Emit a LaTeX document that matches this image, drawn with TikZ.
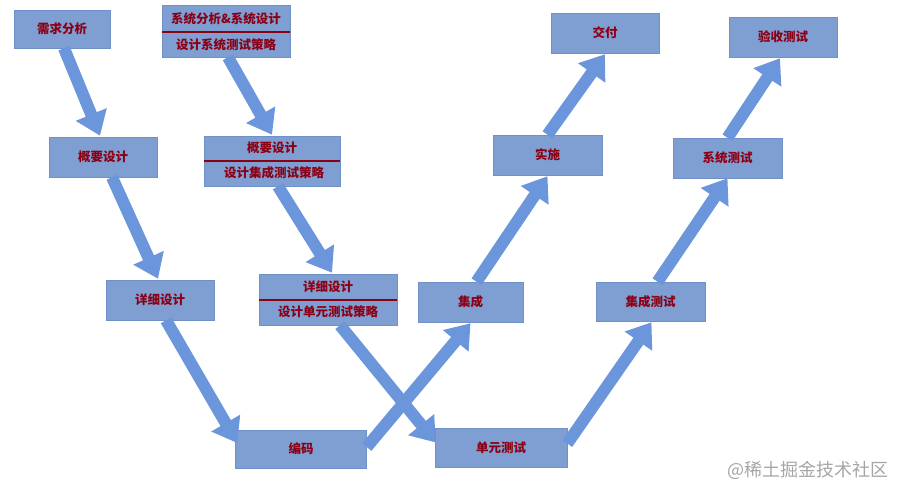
\documentclass[tikz,border=0pt]{standalone}
\usepackage{fontspec}
\setmainfont{Noto Sans CJK SC}
\usetikzlibrary{arrows.meta}
\definecolor{boxfill}{RGB}{127,158,210}
\definecolor{boxedge}{RGB}{112,145,200}
\definecolor{arrowblue}{RGB}{108,150,220}
\definecolor{txtred}{RGB}{140,0,20}
\definecolor{wmgray}{RGB}{165,165,165}
\tikzset{
  box/.style={rectangle, fill=boxfill, draw=boxedge, line width=0.5pt, inner sep=0pt},
  txt/.style={text=txtred, font=\bfseries\fontsize{12.5}{13}\selectfont, inner sep=0pt},
  divider/.style={draw=txtred, line width=1.2pt},
  flow/.style={draw=arrowblue, line width=12pt, -{Triangle[length=23pt,width=32pt]}},
}
\begin{document}
\begin{tikzpicture}[x=1pt,y=-1pt]
\useasboundingbox (0,0) rectangle (905,497);
% single boxes
\node[box, minimum width=96, minimum height=38] (b1) at (62,29) {};
\node[txt] (t1) at (b1) {需求分析};
\node[box, minimum width=108, minimum height=40] (b3) at (103,157) {};
\node[txt] (t3) at (b3) {概要设计};
\node[box, minimum width=108, minimum height=40] (b5) at (160,300) {};
\node[txt] (t5) at (b5) {详细设计};
\node[box, minimum width=131, minimum height=38] (b7) at (301,449) {};
\node[txt] (t7) at (b7) {编码};
\node[box, minimum width=132, minimum height=39] (b8) at (501,447.5) {};
\node[txt] (t8) at (b8) {单元测试};
\node[box, minimum width=105, minimum height=40] (b9) at (470.5,302) {};
\node[txt] (t9) at (b9) {集成};
\node[box, minimum width=109, minimum height=40] (b10) at (547.5,155) {};
\node[txt] (t10) at (b10) {实施};
\node[box, minimum width=108, minimum height=40] (b11) at (605,33) {};
\node[txt] (t11) at (b11) {交付};
\node[box, minimum width=109, minimum height=39] (b12) at (650.5,301.5) {};
\node[txt] (t12) at (b12) {集成测试};
\node[box, minimum width=109, minimum height=40] (b13) at (727.5,158) {};
\node[txt] (t13) at (b13) {系统测试};
\node[box, minimum width=108, minimum height=40] (b14) at (783,37) {};
\node[txt] (t14) at (b14) {验收测试};
% two-part boxes
\node[box, minimum width=128, minimum height=52] (b2) at (226,31) {};
\node[txt] (t2a) at (226,19) {系统分析\&系统设计};
\node[txt] (t2b) at (226,45) {设计系统测试策略};
\draw[divider] (b2.west |- 0,32) -- (b2.east |- 0,32);
\node[box, minimum width=136, minimum height=50] (b4) at (272,161) {};
\node[txt] (t4a) at (272,148) {概要设计};
\node[txt] (t4b) at (274,173) {设计集成测试策略};
\draw[divider] (b4.west |- 0,161) -- (b4.east |- 0,161);
\node[box, minimum width=138, minimum height=51] (b6) at (328,299.5) {};
\node[txt] (t6a) at (328,287) {详细设计};
\node[txt] (t6b) at (328,312) {设计单元测试策略};
\draw[divider] (b6.west |- 0,300) -- (b6.east |- 0,300);
% arrows
\draw[flow] ([shift={(2,0)}]b1.south) -- ([shift={(-3,-1)}]b3.north);
\draw[flow] ([shift={(9,0)}]b3.south) -- ([shift={(-2,-1)}]b5.north);
\draw[flow] ([shift={(6,0)}]b5.south) -- ([shift={(2,-6)}]b7.west);
\draw[flow] ([shift={(2,0)}]b2.south) -- ([shift={(0,-1)}]b4.north);
\draw[flow] ([shift={(6,0)}]b4.south) -- ([shift={(4,-1)}]b6.north);
\draw[flow] ([shift={(0,-2)}]b7.east) -- ([shift={(0,1)}]b9.south);
\draw[flow] ([shift={(12,0)}]b6.south) -- ([shift={(1,-5)}]b8.west);
\draw[flow] ([shift={(6,0)}]b9.north) -- ([shift={(0,1)}]b10.south);
\draw[flow] ([shift={(0,0)}]b10.north) -- ([shift={(0,1)}]b11.south);
\draw[flow] ([shift={(0,-4)}]b8.east) -- ([shift={(1,1)}]b12.south);
\draw[flow] ([shift={(7,0)}]b12.north) -- ([shift={(0,0)}]b13.south);
\draw[flow] ([shift={(0,0)}]b13.north) -- ([shift={(-3,1)}]b14.south);
% watermark
\node[text=wmgray, font=\fontsize{18}{20}\selectfont, inner sep=0pt] (wm) at (808,470) {@稀土掘金技术社区};
\end{tikzpicture}
\end{document}
